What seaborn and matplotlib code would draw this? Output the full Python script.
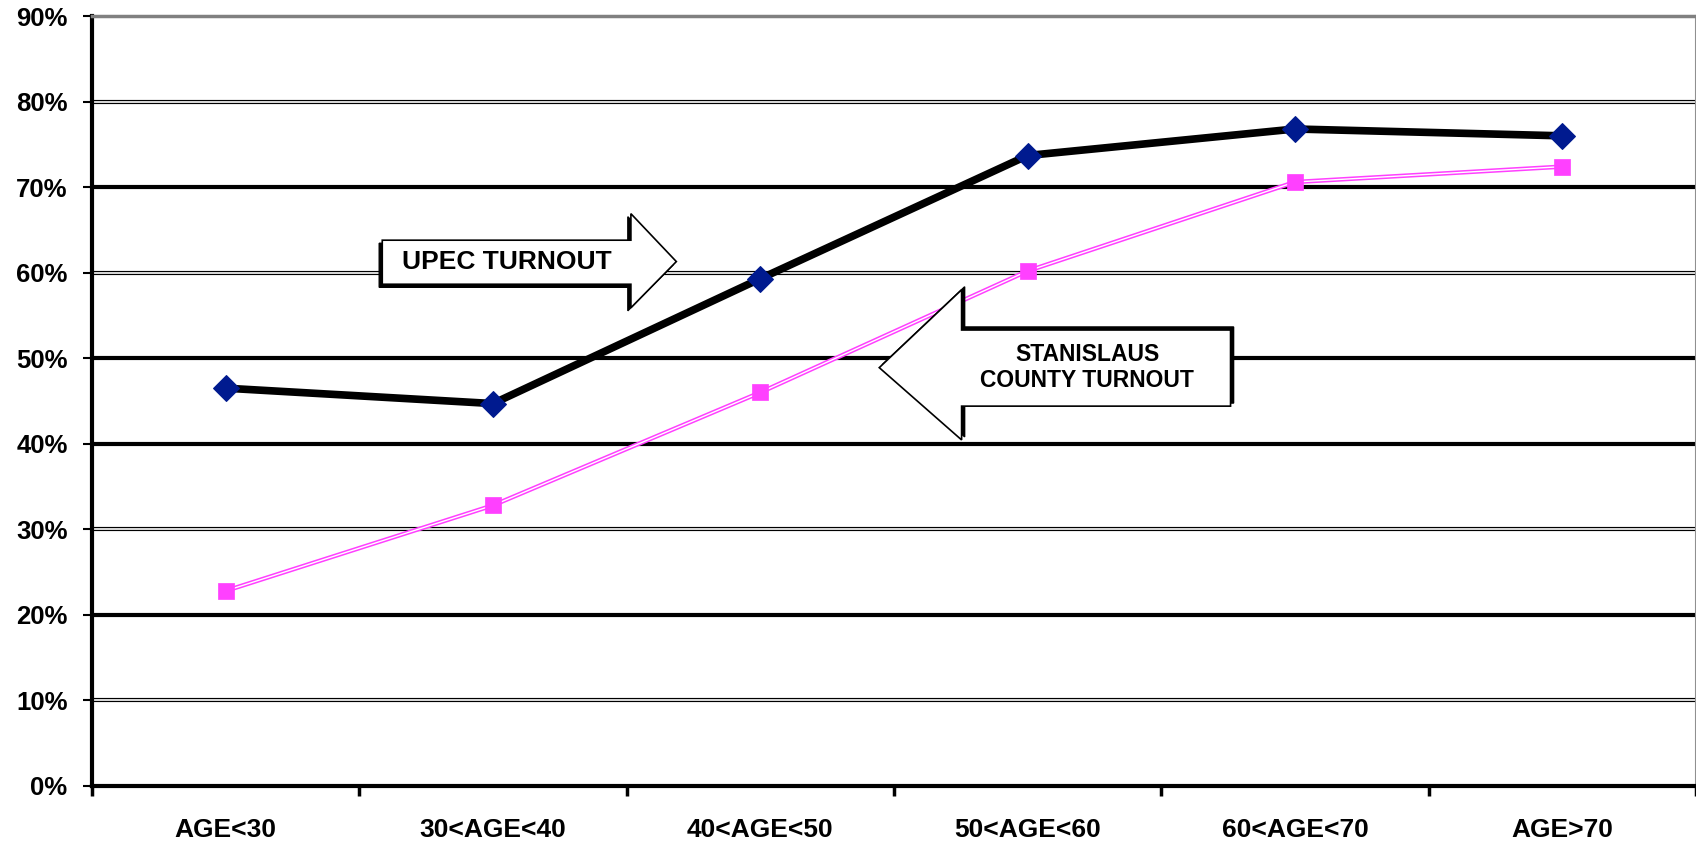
import numpy as np
import pandas as pd
import seaborn as sns
import matplotlib
matplotlib.use("Agg")
import matplotlib.pyplot as plt
from matplotlib.patches import Polygon
from matplotlib.transforms import offset_copy

categories = ["AGE<30", "30<AGE<40", "40<AGE<50", "50<AGE<60", "60<AGE<70", "AGE>70"]
upec = [46.5, 44.7, 59.3, 73.7, 76.8, 76.0]
stanislaus = [22.8, 32.8, 46.0, 60.2, 70.6, 72.4]
y_ticks = [0, 10, 20, 30, 40, 50, 60, 70, 80, 90]
y_labels = [f"{v}%" for v in y_ticks]

df = pd.DataFrame({"pos": range(len(categories)), "category": categories,
                   "upec": upec, "stanislaus": stanislaus})

sns.set_style("white")
plt.rcParams["font.family"] = ["Liberation Sans", "DejaVu Sans"]
plt.rcParams["font.weight"] = "bold"
plt.rcParams["text.color"] = "black"
plt.rcParams["xtick.color"] = "black"
plt.rcParams["ytick.color"] = "black"

navy = "#001A8F"
pink = "#FF40FF"

fig = plt.figure(figsize=(16.96, 8.46), dpi=100)
ax = fig.add_axes([0.0542, 0.071, 0.9458, 0.910])

# old excel-style gridlines: some thick black, some hollow double lines
thick_levels = [20, 40, 50, 70]
double_levels = [10, 30, 60, 80]
for lv in thick_levels:
    ax.axhline(lv, color="black", lw=3, zorder=1)
for lv in double_levels:
    ax.axhline(lv, color="black", lw=3, zorder=1)
    ax.axhline(lv, color="white", lw=1.2, zorder=1.1)

# UPEC series
sns.lineplot(data=df, x="pos", y="upec", color="black", linewidth=5.5,
             marker="D", markersize=13, markerfacecolor=navy,
             markeredgecolor=navy, zorder=5, ax=ax)

# Stanislaus series (double pink line)
sns.lineplot(data=df, x="pos", y="stanislaus", color=pink, linewidth=3.2,
             zorder=4, ax=ax)
sns.lineplot(data=df, x="pos", y="stanislaus", color="white", linewidth=1,
             zorder=4.1, ax=ax)
sns.scatterplot(data=df, x="pos", y="stanislaus", marker="s", s=120,
                color=pink, edgecolor=pink, linewidth=0.5, zorder=6, ax=ax)

# block arrow annotations
def block_arrow(pts, text, tx, ty, size, dx, dy):
    shadow = Polygon(pts, closed=True, facecolor="black", edgecolor="black",
                     lw=1, zorder=7,
                     transform=offset_copy(ax.transData, fig=fig, x=dx, y=dy, units="points"))
    ax.add_patch(shadow)
    ax.add_patch(Polygon(pts, closed=True, facecolor="white", edgecolor="black",
                         lw=1.2, zorder=7.5))
    ax.text(tx, ty, text, ha="center", va="center", fontsize=size,
            fontweight="bold", linespacing=1.15, zorder=8, color="black")

block_arrow([(0.586, 58.65), (1.516, 58.65), (1.516, 55.9), (1.686, 61.3),
             (1.516, 66.9), (1.516, 63.8), (0.586, 63.8)],
            "UPEC TURNOUT", 1.051, 61.3, 19, -2.2, -2.2)
block_arrow([(2.445, 48.9), (2.753, 58.0), (2.753, 53.3), (3.759, 53.3),
             (3.759, 44.4), (2.753, 44.4), (2.753, 40.45)],
            "STANISLAUS\nCOUNTY TURNOUT", 3.223, 48.9, 16.5, 2.2, 2.2)

ax.set_xlim(-0.5, len(categories) - 0.5)
ax.set_ylim(0, 90)

# boundary ticks (major) and centered labels (minor)
ax.set_xticks(np.arange(-0.5, len(categories), 1))
ax.set_xticklabels([])
ax.set_xticks(range(len(categories)), minor=True)
ax.set_xticklabels(categories, minor=True, fontsize=19, fontweight="bold")
ax.tick_params(axis="x", which="major", direction="out", length=7, width=2.5,
               color="black", bottom=True)
ax.tick_params(axis="x", which="minor", length=0, pad=23)

ax.set_yticks(y_ticks)
ax.set_yticklabels(y_labels, fontsize=18.5, fontweight="bold")
ax.tick_params(axis="y", direction="out", length=6.5, width=1.5,
               color="black", left=True, pad=11)

ax.set_xlabel("")
ax.set_ylabel("")

for side in ["left", "bottom"]:
    ax.spines[side].set_color("black")
    ax.spines[side].set_linewidth(3)
ax.spines["top"].set_color("#808080")
ax.spines["top"].set_linewidth(2.5)
ax.spines["right"].set_color("#909090")
ax.spines["right"].set_linewidth(1.5)

fig.savefig("out.png", dpi=100)
